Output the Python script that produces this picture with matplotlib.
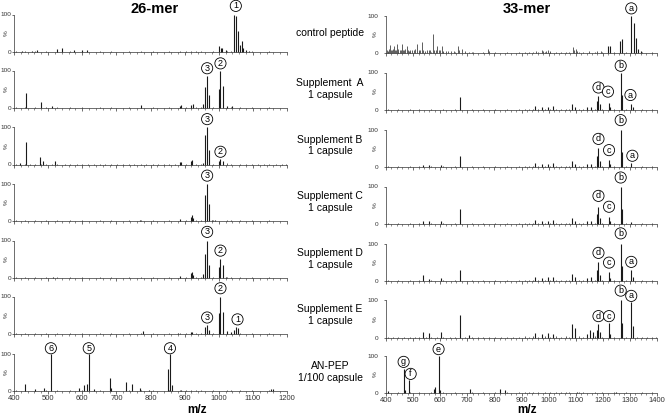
import matplotlib
matplotlib.use('Agg')
import matplotlib.pyplot as plt
from matplotlib.ticker import MultipleLocator
import matplotlib.transforms as mtransforms

plt.rcParams['font.family'] = ['Liberation Sans', 'DejaVu Sans']

# Panel names (middle column)
panel_names = ['control peptide', 'Supplement  A\n1 capsule', 'Supplement B\n1 capsule',
               'Supplement C\n1 capsule', 'Supplement D\n1 capsule', 'Supplement E\n1 capsule',
               'AN-PEP\n1/100 capsule']

# low-level background peaks (m/z, %)
noise_26 = [(405, 2), (418, 1), (431, 2), (447, 1), (462, 2), (478, 1), (493, 2), (512, 1),
            (527, 2), (549, 1), (563, 2), (584, 1), (598, 2), (617, 1), (633, 1), (651, 2),
            (668, 1), (684, 2), (702, 1), (719, 1), (737, 2), (752, 1), (771, 2), (788, 1),
            (806, 2), (821, 1), (839, 1), (853, 2), (872, 1), (887, 3), (903, 2), (918, 3),
            (934, 2), (947, 2), (983, 2), (1024, 3), (1036, 2), (1063, 2), (1081, 1), (1097, 2),
            (1116, 1), (1133, 1), (1148, 2), (1167, 1), (1184, 1), (1196, 1)]
noise_33 = [(408, 2), (425, 1), (446, 2), (468, 1), (487, 2), (506, 1), (522, 2), (547, 1),
            (566, 2), (588, 1), (612, 2), (636, 1), (655, 2), (692, 1), (716, 2), (738, 1),
            (757, 2), (781, 1), (803, 2), (826, 1), (848, 2), (869, 1), (892, 2), (913, 3),
            (928, 2), (941, 3), (962, 2), (986, 3), (1007, 2), (1028, 3), (1046, 2), (1063, 3),
            (1075, 2), (1112, 3), (1128, 2), (1171, 3), (1196, 2), (1241, 2), (1287, 2),
            (1326, 1), (1344, 2), (1362, 1), (1381, 2), (1396, 1)]
noise_33_control = [(403, 9), (407, 6), (411, 10), (415, 22), (419, 8), (423, 7), (427, 11),
                    (431, 18), (435, 9), (438, 7), (442, 25), (446, 10), (450, 8), (454, 9),
                    (458, 25), (462, 9), (466, 7), (470, 12), (476, 18), (480, 8), (485, 6),
                    (490, 9), (496, 7), (502, 8), (508, 10), (515, 25), (520, 7), (526, 9),
                    (531, 30), (537, 8), (544, 6), (551, 9), (558, 7), (564, 8), (572, 50),
                    (578, 7), (583, 9), (589, 20), (595, 7), (600, 8), (605, 20), (612, 6),
                    (620, 5), (630, 6), (640, 5), (650, 6), (664, 20), (670, 8), (679, 10),
                    (690, 5), (705, 4), (720, 4), (777, 10), (780, 5), (955, 5), (974, 7),
                    (980, 6), (990, 5), (998, 8), (1004, 6), (1090, 15), (1095, 8),
                    (1100, 12), (1105, 6), (1150, 6), (1180, 5), (1195, 6)]

# 26-mer spectra (m/z, %)
left_peaks = [
    [(423, 3), (452, 4), (467, 5), (525, 8), (541, 12), (576, 6), (598, 5), (615, 6),
     (1002, 15), (1006, 12), (1010, 10), (1020, 5), (1046, 100), (1050, 95), (1055, 55),
     (1061, 20), (1068, 30), (1072, 12), (1080, 5), (1090, 4)],
    [(436, 40), (479, 15), (510, 5), (772, 7), (885, 6), (888, 8), (920, 8), (925, 10),
     (955, 10), (961, 55), (966, 85), (972, 35), (1000, 50), (1005, 100), (1011, 60),
     (1025, 5), (1040, 5)],
    [(417, 5), (436, 60), (476, 20), (484, 10), (520, 10), (886, 8), (890, 6), (918, 10),
     (922, 12), (955, 5), (961, 80), (966, 100), (972, 40), (1000, 10), (1005, 15), (1011, 10)],
    [(770, 4), (885, 5), (918, 10), (922, 15), (926, 8), (961, 70), (966, 100), (972, 45),
     (980, 4), (990, 3)],
    [(515, 3), (885, 5), (918, 14), (922, 15), (926, 8), (955, 10), (961, 65), (966, 100),
     (972, 35), (1000, 30), (1005, 50), (1011, 35), (1020, 4)],
    [(777, 8), (880, 4), (918, 5), (922, 6), (961, 20), (966, 25), (972, 12), (1000, 55),
     (1005, 100), (1011, 60), (1025, 8), (1035, 5), (1045, 12), (1050, 18), (1056, 15)],
    [(433, 20), (462, 5), (489, 8), (508, 100), (591, 8), (604, 15), (613, 20), (619, 100),
     (633, 5), (680, 35), (685, 8), (729, 25), (745, 20), (770, 8), (796, 4), (851, 60),
     (857, 100), (862, 15), (888, 4), (1152, 6), (1160, 5)],
]

# 33-mer spectra (m/z, %)
right_peaks = [
    [(1219, 20), (1228, 20), (1262, 33), (1270, 38), (1305, 100), (1314, 80), (1321, 40),
     (1330, 10), (1340, 6)],
    [(673, 35), (950, 10), (974, 7), (998, 8), (1017, 10), (1088, 15), (1097, 8), (1143, 7),
     (1158, 8), (1180, 25), (1184, 38), (1190, 15), (1223, 20), (1228, 8), (1266, 100),
     (1272, 40), (1305, 15), (1310, 8)],
    [(538, 6), (560, 5), (603, 5), (673, 30), (950, 10), (974, 7), (998, 8), (1017, 10),
     (1088, 15), (1097, 8), (1143, 7), (1158, 8), (1180, 30), (1184, 50), (1190, 15),
     (1223, 20), (1228, 8), (1266, 100), (1272, 40), (1305, 10)],
    [(538, 7), (560, 8), (603, 8), (673, 40), (950, 10), (974, 7), (998, 8), (1017, 10),
     (1088, 15), (1097, 8), (1143, 7), (1158, 8), (1180, 28), (1184, 45), (1190, 15),
     (1223, 20), (1228, 8), (1266, 100), (1272, 40), (1305, 6)],
    [(538, 15), (560, 6), (603, 7), (673, 30), (950, 12), (974, 7), (998, 10), (1017, 12),
     (1088, 20), (1097, 12), (1143, 8), (1158, 10), (1180, 30), (1184, 50), (1190, 15),
     (1223, 25), (1228, 8), (1266, 100), (1272, 40), (1305, 30), (1310, 10)],
    [(538, 15), (560, 12), (603, 15), (673, 60), (707, 8), (950, 12), (974, 10), (998, 12),
     (1017, 10), (1088, 35), (1097, 25), (1143, 10), (1152, 20), (1164, 15), (1180, 20),
     (1184, 35), (1190, 15), (1223, 40), (1228, 10), (1266, 100), (1272, 40), (1305, 95),
     (1310, 30)],
    [(409, 5), (465, 65), (470, 8), (484, 35), (577, 10), (582, 15), (594, 100), (600, 8),
     (710, 12), (820, 10), (839, 8), (1105, 4), (1250, 3)],
]

# circled labels (text, m/z, height %)
left_labels = [
    [('1', 1050, 123)],
    [('3', 966, 106), ('2', 1005, 119)],
    [('3', 966, 121), ('2', 1005, 34)],
    [('3', 966, 121)],
    [('3', 966, 123), ('2', 1005, 73)],
    [('2', 1005, 122), ('3', 966, 44), ('1', 1055, 39)],
    [('6', 508, 114), ('5', 619, 114), ('4', 857, 114)],
]
right_labels = [
    [('a', 1305, 119)],
    [('b', 1266, 118), ('d', 1184, 60), ('c', 1219, 49), ('a', 1302, 40)],
    [('b', 1266, 125), ('d', 1184, 75), ('c', 1223, 45), ('a', 1309, 30)],
    [('b', 1266, 124), ('d', 1184, 75), ('c', 1223, 46)],
    [('b', 1266, 127), ('d', 1184, 75), ('c', 1223, 49), ('a', 1305, 51)],
    [('b', 1266, 125), ('a', 1305, 111), ('d', 1184, 57), ('c', 1223, 57)],
    [('e', 594, 117), ('g', 465, 83), ('f', 491, 51)],
]

W, H = 667, 417
fig = plt.figure(figsize=(W / 100, H / 100), dpi=100)

left_base = [52, 108, 164.5, 221, 278, 334, 391]
right_base = [53, 110, 167, 224, 281, 337.5, 393]
ylo, yhi = -4, 140
scale = 0.375  # px per % unit


def make_panel(x0, x1, base, xlim, peaks, noise, labels, last, ypad):
    bottom = H - (base - ylo * scale)
    height = (yhi - ylo) * scale
    ax = fig.add_axes([x0 / W, bottom / H, (x1 - x0) / W, height / H])
    ax.set_xlim(*xlim)
    ax.set_ylim(ylo, yhi)
    ax.patch.set_alpha(0)
    for s in ['top', 'right']:
        ax.spines[s].set_visible(False)
    ax.spines['bottom'].set_position(('data', 0))
    ax.spines['left'].set_bounds(0, 100)
    for s in ['bottom', 'left']:
        ax.spines[s].set_linewidth(0.5)
        ax.spines[s].set_color('#333333')
    ax.vlines([p[0] for p in noise], 0, [p[1] for p in noise], color='#444444', lw=0.6)
    ax.vlines([p[0] for p in peaks], 0, [p[1] for p in peaks], color='#1a1a1a', lw=0.8)
    ax.set_yticks([0, 100])
    ax.set_yticklabels(['0', '100'])
    ax.tick_params(axis='y', labelsize=4.6, length=1.5, width=0.5, pad=ypad, colors='#333333')
    ax.xaxis.set_major_locator(MultipleLocator(100))
    ax.xaxis.set_minor_locator(MultipleLocator(20))
    ax.tick_params(axis='x', which='major', length=2, width=0.5, labelsize=5.5, pad=1,
                   colors='#333333', labelbottom=last)
    ax.tick_params(axis='x', which='minor', length=1.2, width=0.4, colors='#333333')
    trans = mtransforms.blended_transform_factory(ax.transAxes, ax.transData)
    ax.text(-(ypad + 7) / (x1 - x0), 50, '%', rotation=90, fontsize=4.6, ha='center',
            va='center', transform=trans, color='#333333')
    for t, mz, y in labels:
        ax.text(mz, y, t, ha='center', va='center', fontsize=6.5, clip_on=False,
                bbox=dict(boxstyle='circle,pad=0.12', fc='white', ec='black', lw=0.6))
    return ax


for i in range(7):
    last = i == 6
    make_panel(14, 287, left_base[i], (400, 1200), left_peaks[i], noise_26,
               left_labels[i], last, 0.5)
    rn = noise_33_control + noise_33 if i == 0 else noise_33
    make_panel(386, 657, right_base[i], (400, 1400), right_peaks[i], rn,
               right_labels[i], last, 4)
    fig.text(330 / W, (H - (left_base[i] - 19)) / H, panel_names[i], ha='center',
             va='center', fontsize=7.5, linespacing=1.2)

fig.text(155 / W, (H - 9) / H, '26-mer', ha='center', va='center', fontsize=10.5,
         fontweight='bold')
fig.text(527 / W, (H - 9) / H, '33-mer', ha='center', va='center', fontsize=10.5,
         fontweight='bold')
fig.text(197 / W, (H - 410) / H, 'm/z', ha='center', va='center', fontsize=8.5,
         fontweight='bold')
fig.text(527 / W, (H - 410) / H, 'm/z', ha='center', va='center', fontsize=8.5,
         fontweight='bold')

fig.savefig('out.png', dpi=100, facecolor='white')
